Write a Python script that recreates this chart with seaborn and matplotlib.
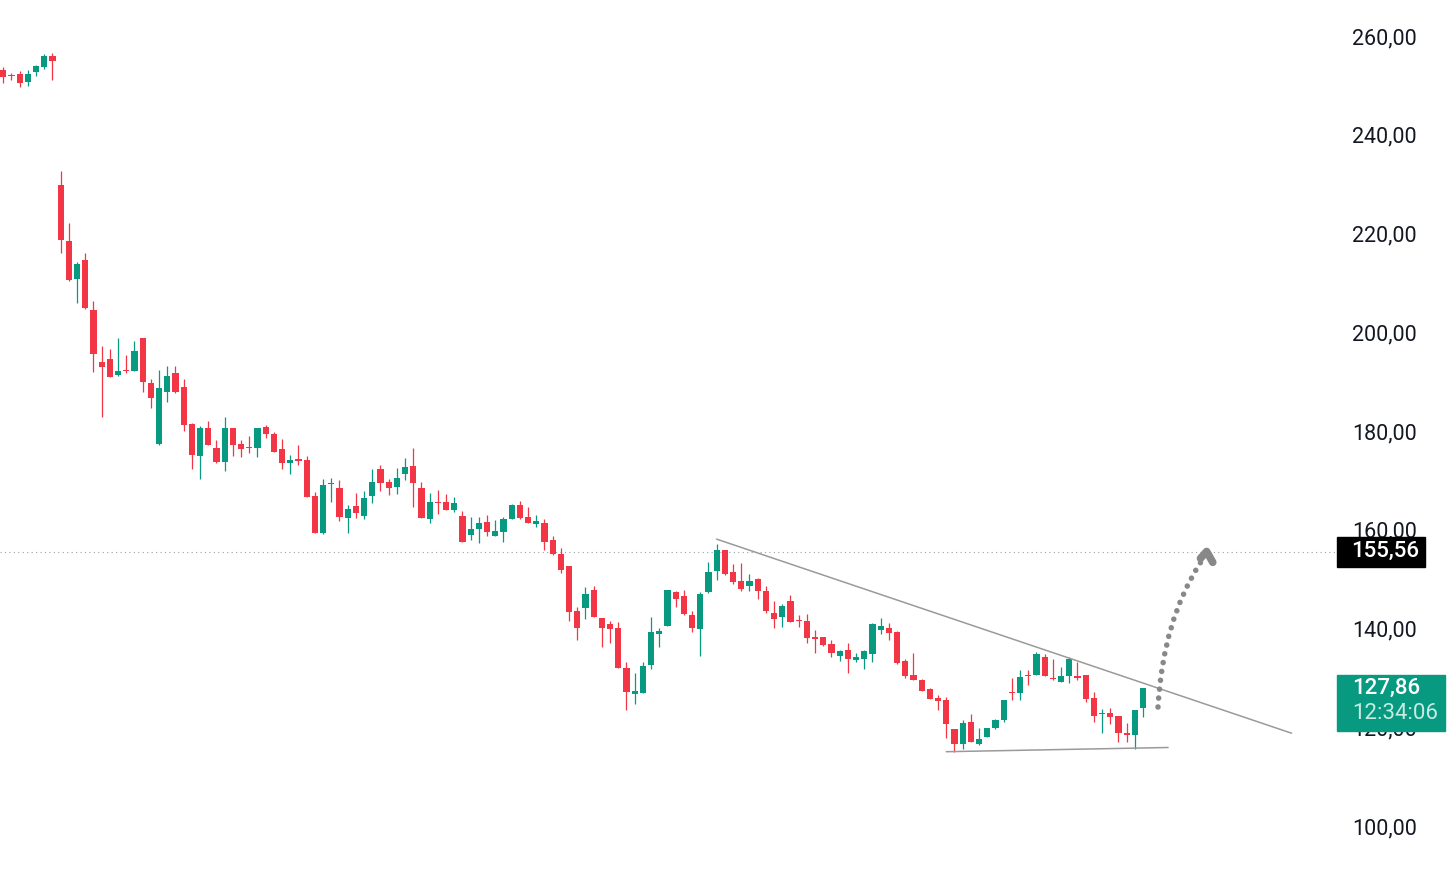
import numpy as np
import pandas as pd
import matplotlib
matplotlib.use("Agg")
import matplotlib.pyplot as plt
import matplotlib.transforms as mtransforms
from matplotlib.path import Path
from matplotlib.patches import PathPatch, Rectangle
import seaborn as sns

# daily OHLC
open_ = [253.1, 252.2, 252.4, 250.7, 252.8, 253.8, 255.9, 229.8, 218.5, 210.8,
         214.6, 204.6, 193.9, 194.6, 191.3, 192.4, 192.2, 198.9, 189.8, 177.4,
         188.0, 191.8, 189.0, 181.4, 175.0, 180.7, 176.6, 173.8, 180.7, 177.4,
         176.8, 176.6, 180.8, 179.4, 176.4, 173.5, 174.3, 174.1, 166.8, 159.4,
         169.3, 168.4, 162.3, 164.8, 162.8, 166.9, 172.3, 169.7, 168.7, 171.3,
         172.9, 168.4, 162.2, 165.7, 165.6, 163.9, 162.8, 158.9, 160.1, 161.6,
         158.8, 159.6, 162.2, 165.0, 162.5, 161.2, 161.3, 157.9, 155.1, 152.7,
         143.5, 144.2, 147.7, 142.1, 140.9, 140.2, 132.1, 126.7, 127.0, 132.6,
         138.9, 140.6, 147.3, 146.6, 142.7, 139.9, 147.3, 151.7, 155.9, 151.5,
         149.6, 148.7, 150.0, 147.6, 143.2, 142.4, 145.6, 141.7, 141.6, 138.3,
         138.2, 136.9, 134.5, 135.6, 133.6, 133.9, 134.9, 139.6, 140.2, 139.2,
         133.4, 130.6, 129.6, 127.7, 126.0, 125.5, 119.6, 116.6, 121.0, 116.6,
         118.1, 119.9, 121.5, 127.2, 127.0, 130.6, 130.6, 134.3, 130.0, 129.2,
         130.3, 130.4, 130.5, 126.0, 122.6, 122.9, 122.3, 118.8, 118.4, 123.9]
high = [253.7, 252.6, 252.9, 253.1, 254.1, 256.3, 256.5, 232.7, 222.2, 214.3,
        216.0, 206.3, 197.2, 196.6, 198.9, 195.4, 198.2, 198.9, 190.5, 192.4,
        193.2, 193.2, 190.5, 181.6, 181.0, 182.0, 178.2, 182.9, 180.7, 178.2,
        179.0, 180.7, 181.2, 179.7, 178.4, 175.1, 177.2, 174.9, 167.6, 170.2,
        170.4, 170.1, 165.0, 167.4, 167.9, 172.3, 173.1, 170.3, 172.6, 174.5,
        176.5, 169.7, 167.4, 168.1, 167.2, 166.6, 163.7, 162.5, 162.5, 163.0,
        162.0, 162.5, 165.2, 165.8, 164.7, 163.0, 162.1, 158.7, 156.4, 152.7,
        144.4, 148.5, 148.6, 142.1, 141.6, 141.4, 133.2, 130.9, 133.2, 142.3,
        140.2, 147.8, 147.6, 147.7, 143.6, 147.3, 153.4, 157.1, 156.0, 153.1,
        153.2, 151.0, 150.3, 148.6, 145.6, 145.0, 146.8, 142.7, 142.9, 139.6,
        138.2, 137.7, 135.6, 137.0, 135.0, 135.6, 141.1, 142.1, 141.1, 139.4,
        133.9, 135.0, 129.8, 127.9, 126.5, 126.1, 119.6, 121.5, 122.6, 119.8,
        119.8, 121.7, 125.5, 129.9, 131.6, 131.6, 135.2, 134.8, 133.8, 132.3,
        134.2, 133.3, 130.6, 127.2, 123.7, 124.0, 122.3, 120.8, 123.5, 127.9]
low = [250.4, 251.0, 249.7, 249.9, 251.8, 253.3, 251.0, 216.0, 210.4, 206.0,
       204.8, 192.0, 182.9, 191.0, 191.1, 191.8, 192.2, 188.0, 184.7, 177.2,
       185.9, 187.6, 180.1, 172.4, 170.3, 177.2, 173.5, 171.8, 175.0, 174.8,
       175.6, 174.8, 178.5, 175.8, 172.3, 171.2, 173.1, 166.7, 159.4, 159.1,
       165.6, 161.8, 159.3, 162.3, 162.1, 165.4, 167.9, 167.0, 167.2, 170.0,
       164.7, 162.4, 161.3, 163.2, 163.9, 163.5, 157.6, 157.9, 157.3, 158.8,
       158.7, 157.6, 162.2, 162.2, 161.4, 160.6, 155.9, 154.9, 151.3, 141.6,
       137.7, 141.9, 142.3, 136.2, 137.1, 132.1, 123.5, 124.7, 127.0, 131.7,
       136.2, 140.6, 144.4, 142.7, 139.2, 134.4, 147.1, 149.8, 150.8, 149.1,
       147.5, 147.5, 146.0, 143.1, 140.2, 140.4, 141.4, 140.4, 137.1, 135.0,
       136.5, 134.3, 133.5, 131.0, 133.3, 131.7, 133.3, 138.8, 137.7, 132.8,
       129.9, 129.6, 127.4, 125.8, 123.4, 117.8, 115.0, 115.5, 117.1, 116.4,
       118.1, 119.6, 121.0, 125.6, 125.6, 128.6, 130.6, 130.4, 129.6, 129.2,
       129.0, 129.6, 125.2, 121.1, 118.8, 120.6, 117.0, 117.0, 115.5, 122.0]
close = [251.6, 251.8, 250.4, 252.4, 254.0, 256.0, 255.0, 218.7, 210.6, 213.8,
         205.0, 195.5, 193.0, 191.0, 192.1, 192.1, 196.2, 190.0, 186.7, 188.8,
         191.1, 188.0, 181.2, 175.1, 180.7, 177.2, 173.7, 180.7, 177.2, 176.4,
         176.5, 180.7, 179.3, 175.8, 173.5, 174.1, 173.9, 166.7, 159.4, 169.1,
         169.5, 162.5, 164.3, 163.3, 166.4, 169.7, 169.5, 168.5, 170.4, 172.8,
         169.4, 162.4, 165.6, 165.5, 163.9, 165.5, 157.6, 160.1, 161.3, 159.6,
         159.7, 162.2, 165.0, 162.3, 161.4, 161.8, 157.6, 155.1, 151.9, 143.4,
         140.2, 147.0, 142.3, 140.2, 139.9, 132.1, 127.2, 127.3, 132.5, 139.2,
         139.5, 147.7, 146.0, 142.9, 140.2, 147.0, 151.5, 155.9, 151.0, 149.5,
         148.1, 149.6, 147.5, 143.6, 141.9, 144.6, 141.4, 141.5, 138.1, 137.8,
         136.7, 135.1, 135.4, 133.8, 134.3, 135.4, 140.9, 140.5, 139.1, 133.0,
         130.4, 129.6, 127.4, 125.8, 125.4, 120.6, 116.6, 120.8, 117.1, 117.6,
         119.8, 121.5, 125.5, 127.0, 130.1, 130.4, 134.8, 130.4, 129.8, 130.4,
         133.8, 129.9, 125.8, 122.3, 122.8, 122.1, 118.8, 118.5, 123.5, 127.86]

price_ticks = [100, 120, 140, 160, 180, 200, 220, 240, 260]
ref_price = 155.56
last_price = 127.86
countdown = "12:34:06"

# drawings (bar index, price)
trend_x = [87.0, 157.1]
trend_y = [158.1, 118.8]
support_x = [115.0, 142.05]
support_y = [115.05, 115.9]
arrow_x = [140.82, 141.43, 146.06]
arrow_y = [124.1, 141.7, 153.5]
head_x = [146.0, 146.75, 147.5]
head_y = [154.2, 155.6, 153.4]

UP = "#089981"
DOWN = "#F23645"

df = pd.DataFrame({"open": open_, "high": high, "low": low, "close": close})
df["idx"] = np.arange(len(df))
df["up"] = df["close"] >= df["open"]
df["color"] = np.where(df["up"], UP, DOWN)
df["bottom"] = df[["open", "close"]].min(axis=1)
df["height"] = (df["close"] - df["open"]).abs().clip(lower=0.2)

sns.set_theme(style="white")
plt.rcParams["font.family"] = ["Roboto", "DejaVu Sans"]

fig = plt.figure(figsize=(14.55, 8.74), dpi=100)
ax = fig.add_axes([0, 0, 1337 / 1455, 1])

ax.vlines(df["idx"], df["low"], df["high"], colors=df["color"], lw=0.9, zorder=2)
ax.bar(df["idx"], df["height"], bottom=df["bottom"], width=0.74,
       color=df["color"], linewidth=0, zorder=3)

# price line
ax.axhline(ref_price, color="#9aa0a6", lw=0.8, ls=(0, (1, 3)), zorder=1)

# trend lines
sns.lineplot(x=trend_x, y=trend_y, ax=ax, color="#9a9a9a", lw=1.1, zorder=4)
sns.lineplot(x=support_x, y=support_y, ax=ax, color="#9a9a9a", lw=1.1, zorder=4)

# dotted arrow
path = Path(list(zip(arrow_x, arrow_y)), [Path.MOVETO, Path.CURVE3, Path.CURVE3])
ax.add_patch(PathPatch(path, fill=False, edgecolor="#888888", lw=4.0,
                       ls=(0, (0.01, 1.6)), capstyle="round", zorder=5))
ax.plot(head_x, head_y, color="#888888", lw=5.5, solid_capstyle="round",
        solid_joinstyle="round", zorder=5)

ax.set_xlim(-0.40, 162.65)
ax.set_ylim(90.28, 267.29)
ax.set_xticks([])
ax.set_yticks(price_ticks)
ax.set_yticklabels([f"{v:.2f}".replace(".", ",") for v in price_ticks])
ax.yaxis.tick_right()
ax.tick_params(axis="y", length=0, pad=11, labelsize=15.5, labelcolor="#131722")
sns.despine(ax=ax, left=True, right=True, top=True, bottom=True)

# price labels on the scale
trans = mtransforms.blended_transform_factory(ax.transAxes, ax.transData)
ax.add_patch(Rectangle((1.0, ref_price - 3.04), 88 / 1337, 6.08, transform=trans,
                       color="black", clip_on=False, zorder=10))
ax.text(1385 / 1337, ref_price, f"{ref_price:.2f}".replace(".", ","), transform=trans,
        ha="center", va="center", color="white", fontsize=16, fontweight="medium",
        zorder=11, clip_on=False)

ax.add_patch(Rectangle((1.0, last_price - 8.62), 108 / 1337, 11.34, transform=trans,
                       color=UP, clip_on=False, zorder=10))
ax.text(1352 / 1337, last_price, f"{last_price:.2f}".replace(".", ","), transform=trans,
        ha="left", va="center", color="white", fontsize=16, fontweight="medium",
        zorder=11, clip_on=False)
ax.text(1352 / 1337, last_price - 5.06, countdown, transform=trans,
        ha="left", va="center", color="#c4ece3", fontsize=16, zorder=11, clip_on=False)

fig.savefig("out.png", dpi=100)
